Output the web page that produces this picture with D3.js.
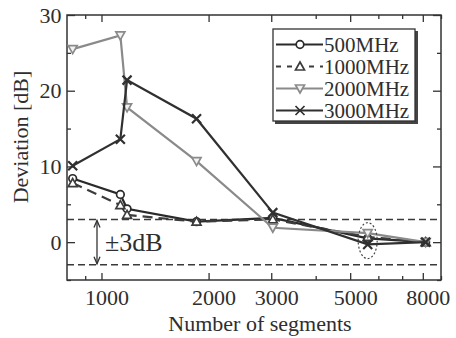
<!DOCTYPE html>
<html>
<head>
<meta charset="utf-8">
<script src="https://cdn.jsdelivr.net/npm/d3@7"></script>
<style>
  body { margin: 0; background: #fff; }
  svg text { font-family: "Liberation Serif", "Times New Roman", serif; fill: #2e2e2e; }
</style>
</head>
<body>
<div id="chart"></div>
<script>
// Data
var segments = [830, 1130, 1180, 1850, 3030, 5600, 8150];
var dev500  = [8.4, 6.3, 4.4, 2.7, 3.2, 0.5, 0];
var dev1000 = [7.8, 4.9, 3.6, 2.7, 3.0, 0.7, 0];
var dev2000 = [25.5, 27.3, 17.8, 10.7, 1.9, 1.2, 0];
var dev3000 = [10.1, 13.6, 21.4, 16.3, 3.9, -0.3, 0];
var seriesNames = ["500MHz", "1000MHz", "2000MHz", "3000MHz"];
var xMajor = [1000, 2000, 3000, 5000, 8000];
var xMinor = [900, 4000, 6000, 7000, 9000];
var yMajor = [0, 10, 20, 30];
var yMinor = [-5, 5, 15, 25];
var band = [3, -3];

var W = 456, H = 338;
var pLeft = 67, pRight = 441, pTop = 15, pBottom = 280;

var svg = d3.select("#chart").append("svg")
    .attr("width", W)
    .attr("height", H);

var x = d3.scaleLog().domain([800, 9000]).range([pLeft, pRight]);
var y = d3.scaleLinear().domain([-5, 30]).range([pBottom, pTop]);

// dashed +-3 dB lines
svg.selectAll(".band")
    .data(band)
    .enter().append("line")
    .attr("x1", pLeft).attr("x2", pRight)
    .attr("y1", d => y(d)).attr("y2", d => y(d))
    .style("stroke", "#3a3a3a")
    .style("stroke-width", 1.5)
    .style("stroke-dasharray", "7,4");

// axes, ticks pointing inward
function styleAxis(g) {
    g.select(".domain").remove();
    g.selectAll(".tick line").style("stroke", "#333").style("stroke-width", 1.3);
    g.selectAll("text").style("font-size", "22px").style("fill", "#2e2e2e")
        .style("font-family", "'Liberation Serif', 'Times New Roman', serif");
}

svg.append("g")
    .attr("transform", "translate(0," + pBottom + ")")
    .call(d3.axisBottom(x).tickValues(xMajor).tickSize(-7).tickPadding(9.5).tickFormat(d3.format("d")))
    .call(styleAxis)
    .selectAll("text").attr("dx", 5);
svg.append("g")
    .attr("transform", "translate(0," + pBottom + ")")
    .call(d3.axisBottom(x).tickValues(xMinor).tickSize(-4).tickFormat(""))
    .call(styleAxis);
svg.append("g")
    .attr("transform", "translate(0," + pTop + ")")
    .call(d3.axisTop(x).tickValues(xMajor).tickSize(-7).tickFormat(""))
    .call(styleAxis);
svg.append("g")
    .attr("transform", "translate(0," + pTop + ")")
    .call(d3.axisTop(x).tickValues(xMinor).tickSize(-4).tickFormat(""))
    .call(styleAxis);

svg.append("g")
    .attr("transform", "translate(" + pLeft + ",0)")
    .call(d3.axisLeft(y).tickValues(yMajor).tickSize(-8).tickPadding(5.5).tickFormat(d3.format("d")))
    .call(styleAxis);
svg.append("g")
    .attr("transform", "translate(" + pLeft + ",0)")
    .call(d3.axisLeft(y).tickValues(yMinor).tickSize(-4).tickFormat(""))
    .call(styleAxis);
svg.append("g")
    .attr("transform", "translate(" + pRight + ",0)")
    .call(d3.axisRight(y).tickValues(yMajor).tickSize(-8).tickFormat(""))
    .call(styleAxis);
svg.append("g")
    .attr("transform", "translate(" + pRight + ",0)")
    .call(d3.axisRight(y).tickValues(yMinor).tickSize(-4).tickFormat(""))
    .call(styleAxis);

// frame
svg.append("rect")
    .attr("x", pLeft).attr("y", pTop)
    .attr("width", pRight - pLeft).attr("height", pBottom - pTop)
    .style("fill", "none")
    .style("stroke", "#333")
    .style("stroke-width", 1.5);

// marker shapes
function markerPath(type) {
    if (type === "circle") return "M-3.8,0A3.8,3.8 0 1,0 3.8,0A3.8,3.8 0 1,0 -3.8,0Z";
    if (type === "up") return "M0,-4.5L4.5,3.5L-4.5,3.5Z";
    if (type === "down") return "M0,4.5L4.5,-3.5L-4.5,-3.5Z";
    return "M-4.5,-4.5L4.5,4.5M4.5,-4.5L-4.5,4.5";
}

var series = [
    { name: seriesNames[0], values: dev500,  color: "#2a2a2a", dash: null,   marker: "circle", fill: "#fff" },
    { name: seriesNames[1], values: dev1000, color: "#3c3c3c", dash: "10,6", marker: "up",     fill: "#fff" },
    { name: seriesNames[2], values: dev2000, color: "#8a8a8a", dash: null,   marker: "down",   fill: "#f2f2f2" },
    { name: seriesNames[3], values: dev3000, color: "#303030", dash: null,   marker: "x",      fill: "none" }
];

var line = d3.line()
    .x(d => x(d[0]))
    .y(d => y(d[1]));

series.forEach(s => {
    var pts = segments.map((v, i) => [v, s.values[i]]);
    svg.append("path")
        .datum(pts)
        .attr("d", line)
        .style("fill", "none")
        .style("stroke", s.color)
        .style("stroke-width", 2.2)
        .style("stroke-dasharray", s.dash);
    svg.selectAll(".m-" + s.marker)
        .data(pts)
        .enter().append("path")
        .attr("class", "m-" + s.marker)
        .attr("transform", d => "translate(" + x(d[0]) + "," + y(d[1]) + ")")
        .attr("d", markerPath(s.marker))
        .style("fill", s.fill)
        .style("stroke", s.color)
        .style("stroke-width", s.marker === "x" ? 2.2 : 1.7);
});

// dotted ellipse around the 5600 point
svg.append("ellipse")
    .attr("cx", x(segments[5])).attr("cy", y(0.2))
    .attr("rx", 9.5).attr("ry", 18)
    .style("fill", "none")
    .style("stroke", "#444")
    .style("stroke-width", 1.2)
    .style("stroke-dasharray", "2,2");

// +-3dB double arrow
var ax = 97;
svg.append("line")
    .attr("x1", ax).attr("x2", ax)
    .attr("y1", y(band[0]) + 1).attr("y2", y(band[1]) - 1)
    .style("stroke", "#333").style("stroke-width", 1.3);
svg.append("path")
    .attr("d", "M" + (ax - 3) + "," + (y(band[0]) + 8) + "L" + ax + "," + (y(band[0]) + 1) + "L" + (ax + 3) + "," + (y(band[0]) + 8)
        + "M" + (ax - 3) + "," + (y(band[1]) - 8) + "L" + ax + "," + (y(band[1]) - 1) + "L" + (ax + 3) + "," + (y(band[1]) - 8))
    .style("fill", "none").style("stroke", "#333").style("stroke-width", 1.3);
svg.append("text")
    .attr("x", 105).attr("y", 251)
    .style("font-size", "26px")
    .text("\u00b13dB");

// legend
var lg = svg.append("g").attr("transform", "translate(273,29)");
lg.append("rect")
    .attr("x", 2).attr("y", 2).attr("width", 143).attr("height", 93)
    .style("fill", "#444");
lg.append("rect")
    .attr("width", 142).attr("height", 92)
    .style("fill", "#fff").style("stroke", "#333").style("stroke-width", 1.3);

var item = lg.selectAll(".legend")
    .data(series)
    .enter().append("g")
    .attr("class", "legend")
    .attr("transform", (d, i) => "translate(0," + (15.5 + i * 22) + ")");
item.append("line")
    .attr("x1", 3).attr("x2", 50)
    .style("stroke", d => d.color)
    .style("stroke-width", 2.2)
    .style("stroke-dasharray", d => d.dash ? "5,6" : null);
item.append("path")
    .attr("transform", "translate(27,0)")
    .attr("d", d => markerPath(d.marker))
    .style("fill", d => d.fill)
    .style("stroke", d => d.color)
    .style("stroke-width", 1.7);
item.append("text")
    .attr("x", 51)
    .attr("dy", "0.35em")
    .style("font-size", "21px")
    .text(d => d.name);

// axis titles
svg.append("text")
    .attr("x", 260).attr("y", 331)
    .style("text-anchor", "middle")
    .style("font-size", "22px")
    .text("Number of segments");
svg.append("text")
    .attr("transform", "translate(28,137) rotate(-90)")
    .style("text-anchor", "middle")
    .style("font-size", "22px")
    .text("Deviation [dB]");
</script>
</body>
</html>
